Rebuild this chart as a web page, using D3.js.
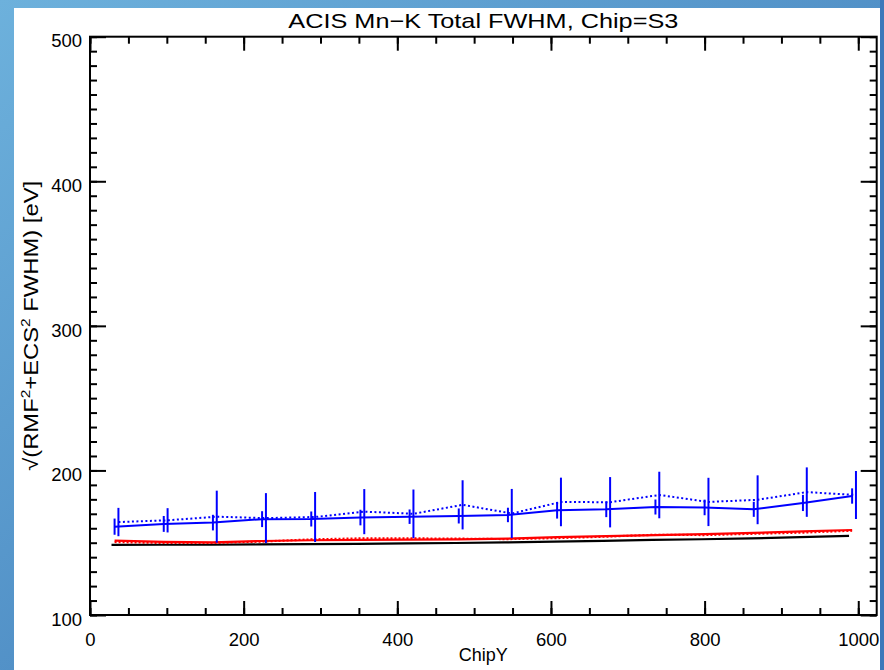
<!DOCTYPE html>
<html lang="en">
<head>
<meta charset="utf-8">
<title>ACIS Mn-K Total FWHM, Chip=S3</title>
<script src="https://d3js.org/d3.v7.min.js"></script>
<style>
  body { margin: 0; overflow: hidden; }
  svg { display: block; font-family: "Liberation Sans", Arial, sans-serif; }
</style>
</head>
<body>
<script>
// chart size and plot box
const w = 884, h = 670;
const plotL = 90, plotR = 876.7, plotT = 36.7, plotB = 615;

// data
const chipY      = [32, 96, 160, 224, 288, 352, 416, 480, 544, 608, 672, 736, 800, 864, 928, 992];
const blueSolid  = [161.1, 163.0, 163.9, 166.3, 166.4, 167.4, 168.0, 168.5, 169.2, 172.4, 173.1, 174.7, 174.4, 173.1, 177.5, 182.3];
const blueSolidErr = [5.6, 5.5, 5.4, 5.5, 5.2, 5.4, 5.0, 5.2, 5.0, 5.7, 5.4, 5.2, 5.4, 5.2, 5.6, 5.3];
const blueDotted = [164.3, 165.5, 168.0, 167.0, 167.8, 171.5, 170.0, 176.2, 170.2, 178.2, 178.0, 183.0, 178.2, 179.7, 185.0, 183.0];
const blueDottedErr = [9.8, 8.4, 18.0, 17.3, 17.3, 15.6, 16.8, 17.0, 17.0, 16.8, 17.4, 16.1, 16.7, 16.9, 17.1, 16.6];
const dottedShift = 5;   // dotted series plotted slightly to the right
const redSolid   = [151.4, 150.6, 150.3, 151.2, 151.7, 152.0, 152.2, 152.3, 152.8, 153.8, 154.5, 155.3, 156.0, 156.8, 157.8, 158.8];
const redDotted  = [150.5, 149.8, 149.8, 150.8, 152.3, 153.0, 153.0, 152.8, 152.5, 153.2, 154.2, 155.5, 155.3, 156.2, 157.0, 158.3];
const blackX     = [28, 92, 156, 220, 284, 348, 412, 476, 540, 604, 668, 732, 796, 860, 924, 988];
const blackLine  = [148.5, 148.6, 148.6, 148.8, 149.0, 149.2, 149.5, 149.8, 150.2, 150.7, 151.3, 151.9, 152.4, 153.0, 153.8, 154.7];

const xMajor = [0, 200, 400, 600, 800, 1000];
const yMajor = [100, 200, 300, 400, 500];

const svg = d3.select("body").append("svg")
  .attr("width", w)
  .attr("height", h);

// blue slide background + white page
const grad = svg.append("defs").append("linearGradient")
  .attr("id", "bg").attr("x1", 0).attr("y1", 0).attr("x2", 1).attr("y2", 1);
grad.append("stop").attr("offset", "0%").attr("stop-color", "#6db1dc");
grad.append("stop").attr("offset", "100%").attr("stop-color", "#3872b3");
svg.append("rect").attr("width", w).attr("height", h).attr("fill", "url(#bg)");
svg.append("rect").attr("x", 14).attr("y", 8).attr("width", 866).attr("height", h - 8).attr("fill", "#fff");

const x = d3.scaleLinear().domain([0, 1024]).range([plotL, plotR]);
const y = d3.scaleLinear().domain([100, 500]).range([plotB, plotT]);

const line = d3.line().x(d => x(d[0])).y(d => y(d[1]));

// black and red curves
svg.append("path")
  .datum(blackX.map((d, i) => [d, blackLine[i]]))
  .attr("d", line).attr("fill", "none").attr("stroke", "#000").attr("stroke-width", 2.2);
svg.append("path")
  .datum(chipY.map((d, i) => [d, redDotted[i]]))
  .attr("d", line).attr("fill", "none").attr("stroke", "#f00").attr("stroke-width", 2.2)
  .attr("stroke-dasharray", "2,2");
svg.append("path")
  .datum(chipY.map((d, i) => [d, redSolid[i]]))
  .attr("d", line).attr("fill", "none").attr("stroke", "#f00").attr("stroke-width", 2.2);

// blue dotted series with its error bars
svg.append("path")
  .datum(chipY.map((d, i) => [d + dottedShift, blueDotted[i]]))
  .attr("d", line).attr("fill", "none").attr("stroke", "#00f").attr("stroke-width", 2)
  .attr("stroke-dasharray", "2,2.5");
svg.selectAll(".errDot")
  .data(chipY)
  .enter().append("line")
  .attr("class", "errDot")
  .attr("x1", d => x(d + dottedShift)).attr("x2", d => x(d + dottedShift))
  .attr("y1", (d, i) => y(blueDotted[i] - blueDottedErr[i]))
  .attr("y2", (d, i) => y(blueDotted[i] + blueDottedErr[i]))
  .attr("stroke", "#00f").attr("stroke-width", 2);

// blue solid series with its error bars
svg.append("path")
  .datum(chipY.map((d, i) => [d, blueSolid[i]]))
  .attr("d", line).attr("fill", "none").attr("stroke", "#00f").attr("stroke-width", 2);
svg.selectAll(".errSolid")
  .data(chipY)
  .enter().append("line")
  .attr("class", "errSolid")
  .attr("x1", d => x(d)).attr("x2", d => x(d))
  .attr("y1", (d, i) => y(blueSolid[i] - blueSolidErr[i]))
  .attr("y2", (d, i) => y(blueSolid[i] + blueSolidErr[i]))
  .attr("stroke", "#00f").attr("stroke-width", 2);

// axes: ticks point inward on all four sides
function styleAxis(g) {
  g.select(".domain").remove();
  g.selectAll("line").attr("stroke", "#000").attr("stroke-width", 2);
  g.selectAll("text").attr("fill", "#000").attr("font-size", 18.5)
    .attr("font-family", "Liberation Sans, Arial, sans-serif");
}
const xMinor = d3.range(0, 1024, 50);
const yMinor = d3.range(100, 501, 10);

svg.append("g").attr("transform", `translate(0,${plotB})`)
  .call(d3.axisBottom(x).tickValues(xMinor).tickSize(-7).tickFormat(""))
  .call(styleAxis);
svg.append("g").attr("transform", `translate(0,${plotB})`)
  .call(d3.axisBottom(x).tickValues(xMajor).tickSize(-14).tickPadding(12).tickFormat(d3.format("d")))
  .call(styleAxis)
  .selectAll("text").attr("dy", "1.05em");
svg.append("g").attr("transform", `translate(0,${plotT})`)
  .call(d3.axisTop(x).tickValues(xMinor).tickSize(-7).tickFormat(""))
  .call(styleAxis);
svg.append("g").attr("transform", `translate(0,${plotT})`)
  .call(d3.axisTop(x).tickValues(xMajor).tickSize(-14).tickFormat(""))
  .call(styleAxis);

svg.append("g").attr("transform", `translate(${plotL},0)`)
  .call(d3.axisLeft(y).tickValues(yMinor).tickSize(-7).tickFormat(""))
  .call(styleAxis);
svg.append("g").attr("transform", `translate(${plotL},0)`)
  .call(d3.axisLeft(y).tickValues(yMajor).tickSize(-16).tickPadding(8).tickFormat(d3.format("d")))
  .call(styleAxis)
  .selectAll("text").attr("dy", "0.55em");
svg.append("g").attr("transform", `translate(${plotR},0)`)
  .call(d3.axisRight(y).tickValues(yMinor).tickSize(-7).tickFormat(""))
  .call(styleAxis);
svg.append("g").attr("transform", `translate(${plotR},0)`)
  .call(d3.axisRight(y).tickValues(yMajor).tickSize(-16).tickFormat(""))
  .call(styleAxis);

// plot frame
svg.append("rect")
  .attr("x", plotL).attr("y", plotT)
  .attr("width", plotR - plotL).attr("height", plotB - plotT)
  .attr("fill", "none").attr("stroke", "#000").attr("stroke-width", 2);

// titles
svg.append("text")
  .attr("x", (plotL + plotR) / 2).attr("y", 28)
  .attr("text-anchor", "middle").attr("font-size", 21)
  .attr("textLength", 390).attr("lengthAdjust", "spacingAndGlyphs")
  .text("ACIS Mn\u2212K Total FWHM, Chip=S3");

svg.append("text")
  .attr("x", (plotL + plotR) / 2).attr("y", 661)
  .attr("text-anchor", "middle").attr("font-size", 18)
  .text("ChipY");

const yl = svg.append("text")
  .attr("transform", `translate(38,${(plotT + plotB) / 2}) rotate(-90)`)
  .attr("text-anchor", "middle").attr("font-size", 20)
  .attr("textLength", 290).attr("lengthAdjust", "spacingAndGlyphs");
yl.append("tspan").text("\u221A(RMF");
yl.append("tspan").attr("font-size", 13).attr("dy", -8).text("2");
yl.append("tspan").attr("dy", 8).text("+ECS");
yl.append("tspan").attr("font-size", 13).attr("dy", -8).text("2");
yl.append("tspan").attr("dy", 8).text("  FWHM) [eV]");

// thin blue strip on the right edge of the slide
svg.append("rect").attr("x", 880).attr("y", 0).attr("width", 4).attr("height", h).attr("fill", "#3c78ba");
</script>
</body>
</html>
